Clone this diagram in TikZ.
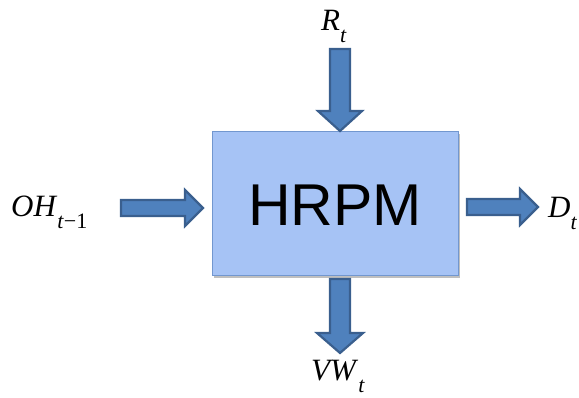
\documentclass[tikz,border=0pt]{standalone}
\usepackage{fontspec}
\setmainfont{Liberation Serif}
\newfontfamily\arialfont{Liberation Sans}
\usetikzlibrary{shadows}
\definecolor{boxfill}{HTML}{A6C3F5}
\definecolor{boxline}{HTML}{7297CF}
\definecolor{arrfill}{HTML}{4F81BD}
\definecolor{arrline}{HTML}{3A5F8E}
\newcommand\varlbl[2]{\fontsize{31}{31}\selectfont\textit{#1}\raisebox{-0.36em}[\height][0pt]{\fontsize{22}{22}\selectfont #2}}
\tikzset{
  blockarrow/.style={fill=arrfill,draw=arrline,line width=2.2pt,line join=miter},
  mainbox/.style={draw=boxline,fill=boxfill,line width=1pt,minimum width=246pt,minimum height=144pt,inner sep=0pt,
    drop shadow={shadow xshift=2pt,shadow yshift=-2pt,opacity=0.25,fill=black}},
  varlabel/.style={inner sep=0pt,anchor=base west}
}
\begin{document}
\begin{tikzpicture}[x=1pt,y=-1pt]
\useasboundingbox (0,0) rectangle (579,398);
\node[mainbox] (hrpm) at (335,204) {};
\node[inner sep=0pt] (hrpmtxt) at (335,205) {\arialfont\fontsize{59}{59}\selectfont HRPM};
% labels
\node[varlabel] (rt) at (321,31) {\varlbl{R}{\textit{t}}};
\node[varlabel] (oh) at (11,217) {\varlbl{OH}{\textit{t}−1}};
\node[varlabel] (dt) at (548,218) {\varlbl{D}{\textit{t}}};
\node[varlabel] (vw) at (311,381) {\varlbl{VW}{\textit{t}}};
% block arrows
\draw[blockarrow] (330,49) -- (350,49) -- (350,111) -- (362,111) -- (340,131) -- (318,111) -- (330,111) -- cycle;
\draw[blockarrow] (330,279) -- (350,279) -- (350,333) -- (363,333) -- (340,353) -- (317,333) -- (330,333) -- cycle;
\draw[blockarrow] (121,200) -- (185,200) -- (185,190) -- (203,208) -- (185,226) -- (185,216) -- (121,216) -- cycle;
\draw[blockarrow] (467,199) -- (520,199) -- (520,189) -- (538,207) -- (520,225) -- (520,215) -- (467,215) -- cycle;
\end{tikzpicture}
\end{document}
